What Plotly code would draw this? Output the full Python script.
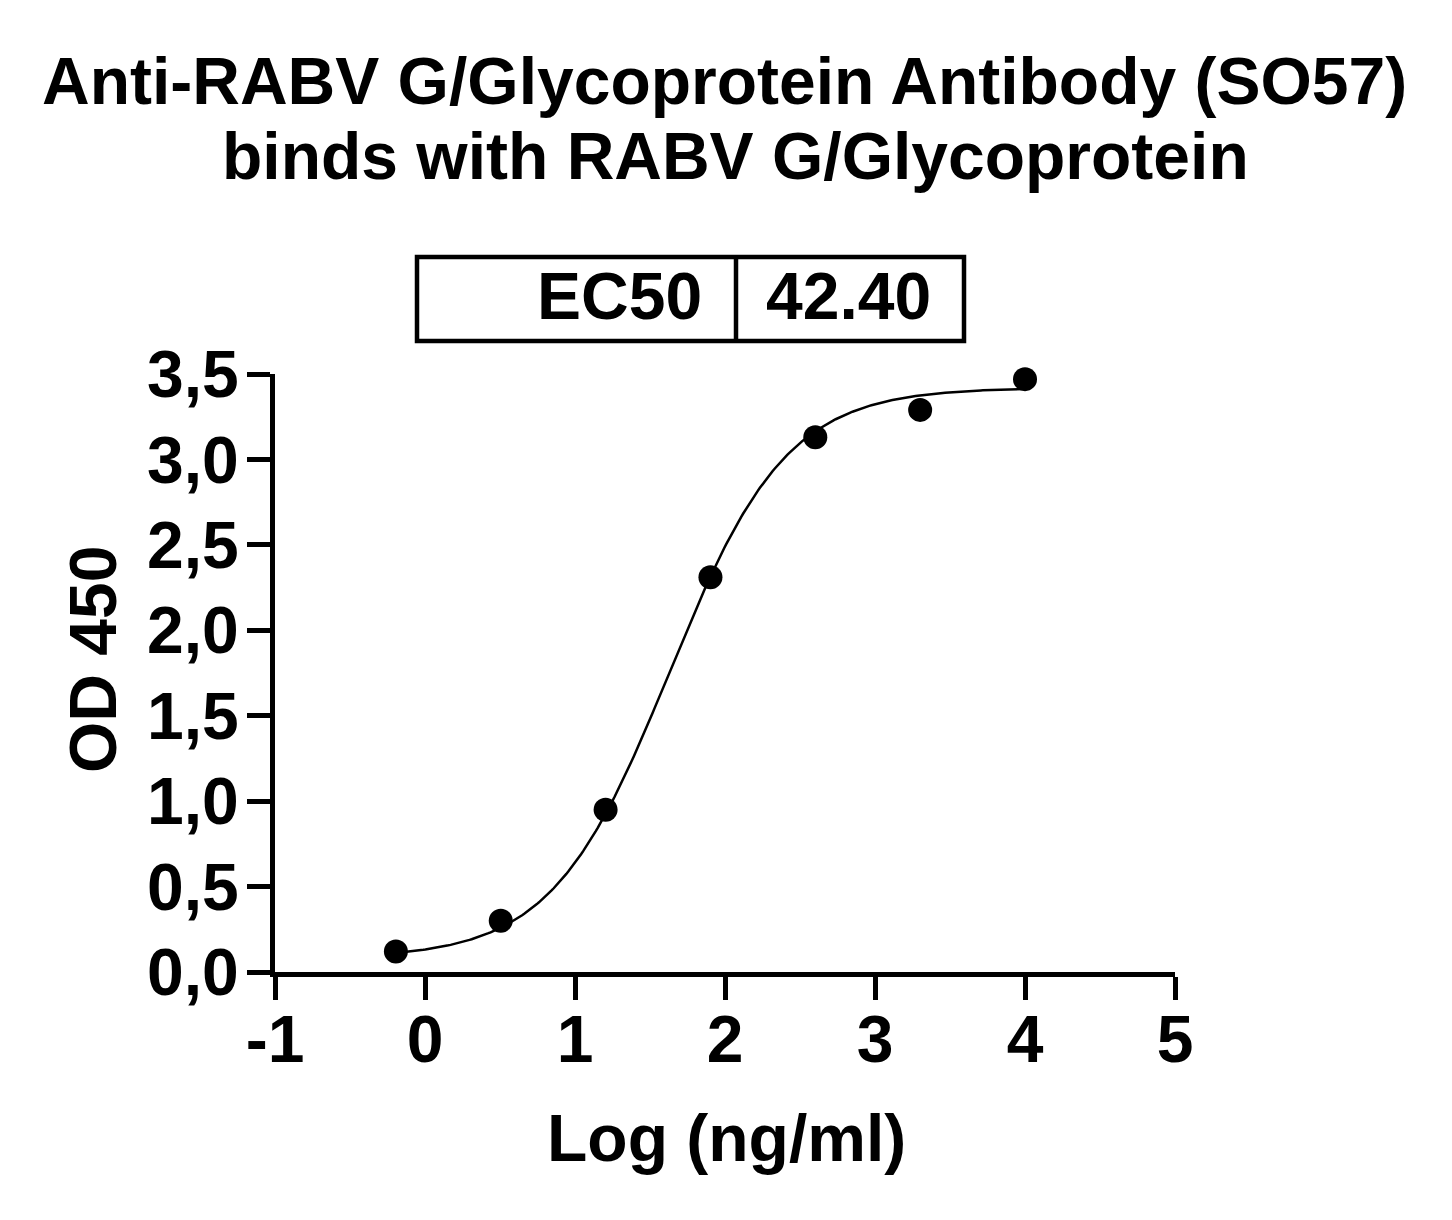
import numpy as np
import plotly.graph_objects as go

# Data
log_conc = [-0.194, 0.505, 1.204, 1.903, 2.602, 3.301, 4.0]
od450 = [0.12, 0.30, 0.95, 2.31, 3.13, 3.29, 3.47]

# 4PL fit parameters (EC50 = 42.40 ng/ml)
ec50 = 42.40
bottom = 0.08
top = 3.42
hill = 1.11

x_ticks = [-1, 0, 1, 2, 3, 4, 5]
x_ticktext = ["-1", "0", "1", "2", "3", "4", "5"]
y_ticks = [0, 0.5, 1.0, 1.5, 2.0, 2.5, 3.0, 3.5]
y_ticktext = ["0,0", "0,5", "1,0", "1,5", "2,0", "2,5", "3,0", "3,5"]

title_lines = ["Anti-RABV G/Glycoprotein Antibody (SO57)", "binds with RABV G/Glycoprotein"]

# fitted curve over the data range
xc = np.linspace(min(log_conc), max(log_conc), 300)
yc = bottom + (top - bottom) / (1 + 10 ** ((np.log10(ec50) - xc) * hill))

FONT = "Arial, Liberation Sans, Helvetica, sans-serif"
FS = 66

# page size, body margin and plot area (page pixels)
W, H = 1452, 1220
OFF = 8
FW, FH = W - 2 * OFF, H - 2 * OFF
L, R, T, B = 275, 1175, 374, 972


def px(x):
    return (x - L) / (R - L)


def py(y):
    return (B - y) / (B - T)


fig = go.Figure()
fig.add_trace(go.Scatter(x=xc, y=yc, mode="lines",
                         line=dict(color="black", width=2.5),
                         showlegend=False, hoverinfo="skip", cliponaxis=False))
fig.add_trace(go.Scatter(x=log_conc, y=od450, mode="markers",
                         marker=dict(color="black", size=24),
                         showlegend=False, cliponaxis=False))

axis_common = dict(
    showgrid=False, zeroline=False, showline=True, linecolor="black", linewidth=5,
    ticks="outside", ticklen=23, tickwidth=5, tickcolor="black",
    tickfont=dict(family=FONT, size=FS, color="black", weight="bold"),
)

fig.update_xaxes(range=[-1, 5], tickvals=x_ticks, ticktext=x_ticktext,
                 ticklabelstandoff=-17, **axis_common)
fig.update_yaxes(range=[0, 3.5], tickvals=y_ticks, ticktext=y_ticktext,
                 ticklabelstandoff=-5, **axis_common)

annotations = [
    dict(text=title_lines[0], x=724, y=81),
    dict(text=title_lines[1], x=735, y=156),
    dict(text="Log (ng/ml)", x=726, y=1138),
]
ann = []
for a in annotations:
    ann.append(dict(text=a["text"], xref="paper", yref="paper",
                    x=px(a["x"]), y=py(a["y"]), xanchor="center", yanchor="middle",
                    showarrow=False,
                    font=dict(family=FONT, size=FS, color="black", weight="bold")))
ann.append(dict(text="OD 450", xref="paper", yref="paper", x=px(93), y=py(660),
                xanchor="center", yanchor="middle", textangle=-90, showarrow=False,
                font=dict(family=FONT, size=FS, color="black", weight="bold")))
# EC50 table
ann.append(dict(text="EC50", xref="paper", yref="paper", x=px(704), y=py(296),
                xanchor="right", yanchor="middle", showarrow=False,
                font=dict(family=FONT, size=FS, color="black", weight="bold")))
ann.append(dict(text=f"{ec50:.2f}", xref="paper", yref="paper", x=px(848), y=py(296),
                xanchor="center", yanchor="middle", showarrow=False,
                font=dict(family=FONT, size=FS, color="black", weight="bold")))

shapes = [
    dict(type="rect", xref="paper", yref="paper", x0=px(417), x1=px(964),
         y0=py(341), y1=py(257), line=dict(color="black", width=4.5)),
    dict(type="line", xref="paper", yref="paper", x0=px(736), x1=px(736),
         y0=py(341), y1=py(257), line=dict(color="black", width=4.5)),
]

fig.update_layout(
    width=FW, height=FH, autosize=False,
    margin=dict(l=L - OFF, r=FW - (R - OFF), t=T - OFF, b=FH - (B - OFF), pad=0),
    plot_bgcolor="white", paper_bgcolor="white",
    annotations=ann, shapes=shapes,
    font=dict(family=FONT, color="black"),
)

fig.write_html("out.html")
